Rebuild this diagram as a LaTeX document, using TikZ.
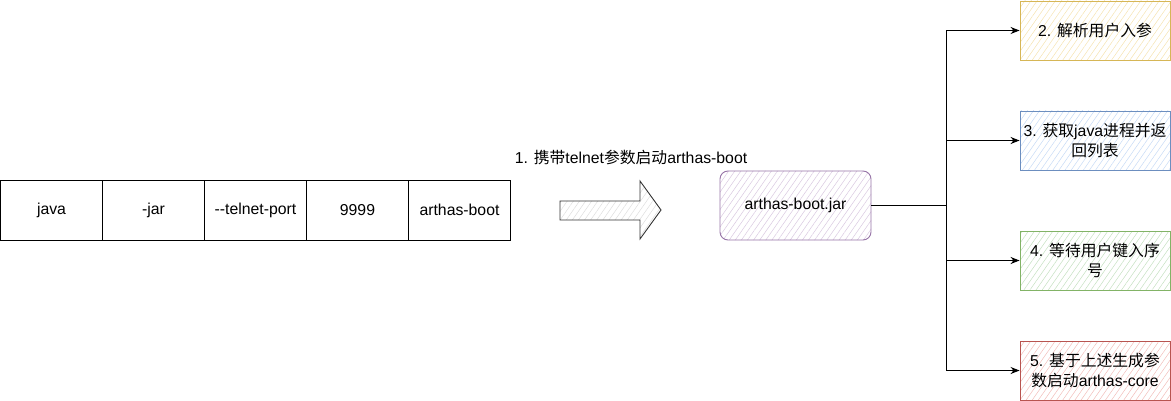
\documentclass[tikz,border=0pt]{standalone}
\usepackage{fontspec}
\setmainfont{Liberation Sans}
\newfontfamily\cjk{Noto Sans CJK SC}
\usetikzlibrary{arrows.meta,patterns.meta}
\definecolor{purpS}{HTML}{9673A6}\definecolor{purpF}{HTML}{D9C8E0}
\definecolor{yelS}{HTML}{D6B656}\definecolor{yelF}{HTML}{F5E3B0}
\definecolor{bluS}{HTML}{6C8EBF}\definecolor{bluF}{HTML}{C6DAF5}
\definecolor{grnS}{HTML}{82B366}\definecolor{grnF}{HTML}{C4E0C0}
\definecolor{redS}{HTML}{B85450}\definecolor{redF}{HTML}{F2BDBA}
\definecolor{grayS}{HTML}{333333}\definecolor{grayF}{HTML}{DDDDDD}
\tikzset{
  hatch/.style={pattern={Lines[angle=55,distance=5pt,line width=0.5pt]}, pattern color=#1},
  cell/.style={draw=black, line width=0.9pt, minimum width=102pt, minimum height=60pt, inner sep=0pt},
  stepbox/.style 2 args={draw=#1, hatch=#2, line width=0.9pt, minimum width=150pt, minimum height=59pt, inner sep=2pt, align=center},
  conn/.style={draw=black, line width=1pt},
  arr/.style={conn, -{Stealth[length=9pt,width=7pt]}},
}
\begin{document}
\begin{tikzpicture}[x=1pt,y=-1pt, font=\fontsize{15.8}{20}\selectfont]
\useasboundingbox (0,0) rectangle (1171,401);
% command cells
\node[cell] (c1) at (51.5,210) {java};
\node[cell] (c2) at (153.5,210) {-jar};
\node[cell] (c3) at (255.5,210) {-{}-telnet-port};
\node[cell] (c4) at (357.5,210) {9999};
\node[cell] (c5) at (459.5,210) {arthas-boot};
% big arrow
\draw[draw=grayS, line width=0.9pt, hatch=grayF] (560,201) -- (640,201) -- (640,181) -- (661,210) -- (640,239) -- (640,220) -- (560,220) -- cycle;
\node (lbl) at (631,157) {1. {\cjk 携带}telnet{\cjk 参数启动}arthas-boot};
% jar box
\node[draw=purpS, hatch=purpF, line width=0.9pt, rounded corners=8pt, minimum width=151pt, minimum height=69pt] (jar) at (795.5,205.5) {arthas-boot.jar};
% step boxes
\node[stepbox={yelS}{yelF}] (b2) at (1095,30.5) {2. {\cjk 解析用户入参}};
\node[stepbox={bluS}{bluF}] (b3) at (1095,140.5) {3. {\cjk 获取}java{\cjk 进程并返}\\{\cjk 回列表}};
\node[stepbox={grnS}{grnF}] (b4) at (1095,260.5) {4. {\cjk 等待用户键入序}\\{\cjk 号}};
\node[stepbox={redS}{redF}] (b5) at (1095,370.5) {5. {\cjk 基于上述生成参}\\{\cjk 数启动}arthas-core};
% connectors
\coordinate (trunk) at (946,205.5);
\draw[conn] (jar.east) -- (trunk);
\draw[arr] (trunk) |- (b2.west);
\draw[arr] (trunk) |- (b3.west);
\draw[arr] (trunk) |- (b4.west);
\draw[arr] (trunk) |- (b5.west);
\end{tikzpicture}
\end{document}
